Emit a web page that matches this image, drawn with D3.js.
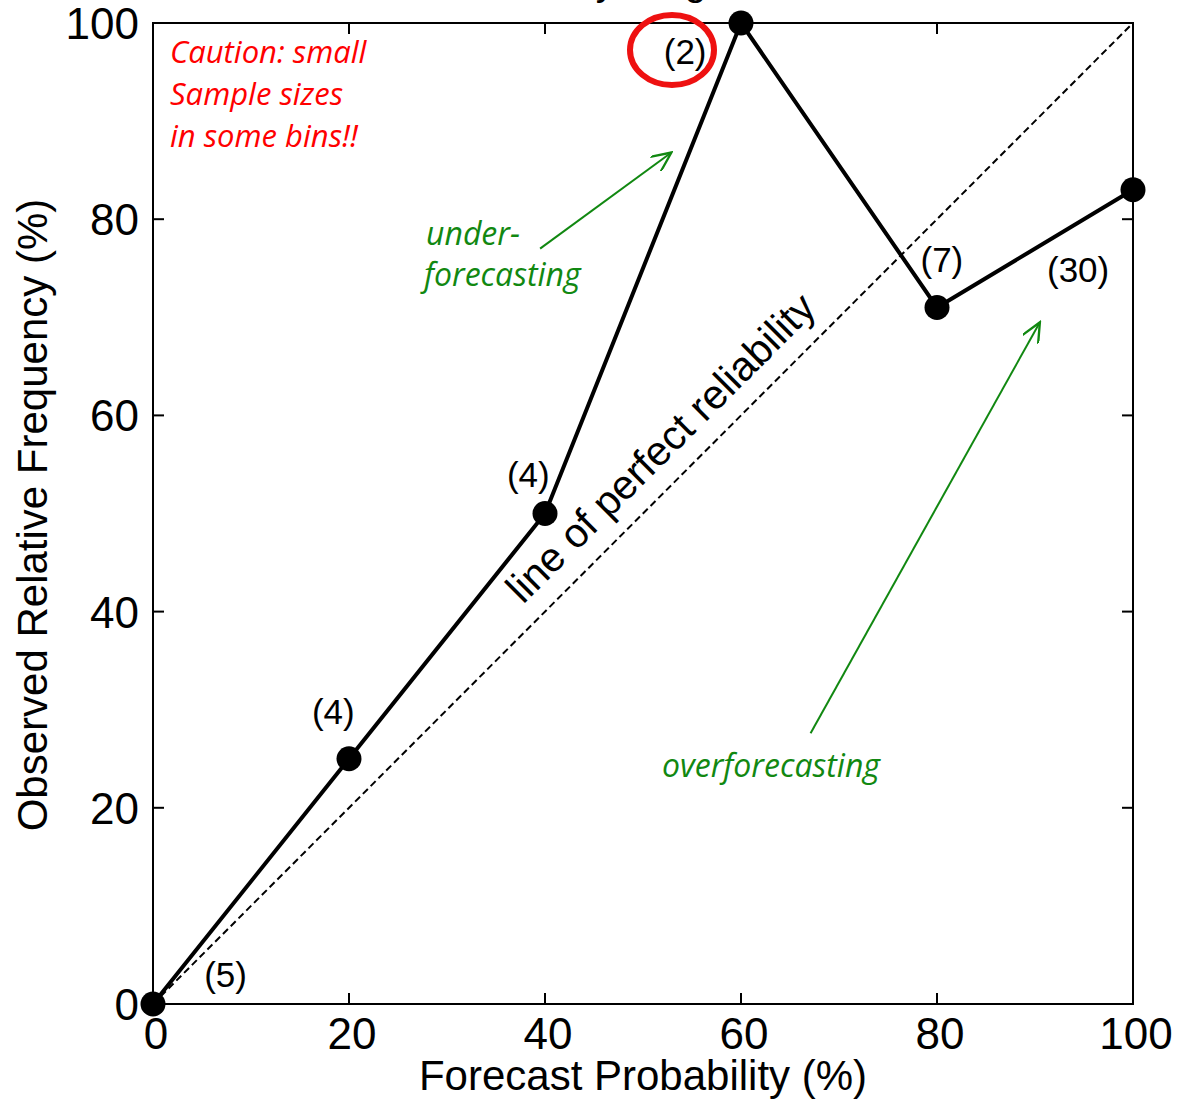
<!DOCTYPE html>
<html>
<head>
<meta charset="utf-8">
<title>reliability diagram</title>
<script src="https://cdn.jsdelivr.net/npm/d3@7"></script>
<style>
  body { margin: 0; background: #fff; }
  svg { display: block; font-family: "Liberation Sans", Arial, sans-serif; }
</style>
</head>
<body>
<div id="chart"></div>
<script>
var forecast = [0, 20, 40, 60, 80, 100],
    observed = [0, 25, 50, 100, 71, 83],
    counts = ["(5)", "(4)", "(4)", "(2)", "(7)", "(30)"],
    ticks = [0, 20, 40, 60, 80, 100];

// where each count label sits, in data units
var labelPos = [[7.4, 1.7], [18.4, 28.5], [38.3, 52.7], [54.3, 95.8], [80.5, 74.6], [94.4, 73.6]];

var width = 1177, height = 1099,
    margin = { top: 23, right: 44, bottom: 95, left: 153 };

var svg = d3.select("#chart").append("svg")
    .attr("width", width)
    .attr("height", height);

var x = d3.scaleLinear().domain([0, 100]).range([margin.left, width - margin.right]);
var y = d3.scaleLinear().domain([0, 100]).range([height - margin.bottom, margin.top]);

// title, mostly cut off at the top edge
svg.append("text")
    .attr("x", 611).attr("y", -5)
    .attr("text-anchor", "middle")
    .style("font-size", "39px")
    .text("Reliability Diagram");

// ticks on all four sides, pointing in
var tl = 11;
ticks.forEach(function(t) {
    svg.append("line").attr("x1", x(t)).attr("x2", x(t)).attr("y1", y(0)).attr("y2", y(0) - tl).attr("stroke", "#000").attr("stroke-width", 2);
    svg.append("line").attr("x1", x(t)).attr("x2", x(t)).attr("y1", y(100)).attr("y2", y(100) + tl).attr("stroke", "#000").attr("stroke-width", 2);
    svg.append("line").attr("y1", y(t)).attr("y2", y(t)).attr("x1", x(0)).attr("x2", x(0) + tl).attr("stroke", "#000").attr("stroke-width", 2);
    svg.append("line").attr("y1", y(t)).attr("y2", y(t)).attr("x1", x(100)).attr("x2", x(100) - tl).attr("stroke", "#000").attr("stroke-width", 2);

    svg.append("text")
        .attr("x", x(t) + 3).attr("y", y(0) + 45)
        .attr("text-anchor", "middle")
        .style("font-size", "44px")
        .text(t);
    svg.append("text")
        .attr("x", x(0) - 14).attr("y", y(t) + 16)
        .attr("text-anchor", "end")
        .style("font-size", "44px")
        .text(t);
});

svg.append("rect")
    .attr("x", x(0)).attr("y", y(100))
    .attr("width", x(100) - x(0)).attr("height", y(0) - y(100))
    .attr("fill", "none").attr("stroke", "#000").attr("stroke-width", 2);

// axis titles
svg.append("text")
    .attr("x", x(50)).attr("y", height - 9)
    .attr("text-anchor", "middle")
    .style("font-size", "42px")
    .text("Forecast Probability (%)");
svg.append("text")
    .attr("transform", "translate(47," + 515 + ") rotate(-90)")
    .attr("text-anchor", "middle")
    .style("font-size", "42px")
    .text("Observed Relative Frequency (%)");

// perfect reliability
svg.append("line")
    .attr("x1", x(0)).attr("y1", y(0)).attr("x2", x(100)).attr("y2", y(100))
    .attr("stroke", "#000").attr("stroke-width", 2)
    .attr("stroke-dasharray", "7,4");
svg.append("text")
    .attr("transform", "translate(" + x(52.8) + "," + y(55.7) + ") rotate(-45)")
    .attr("text-anchor", "middle")
    .style("font-size", "41px")
    .text("line of perfect reliability");

// data line and points
var pts = forecast.map(function(f, i) { return [f, observed[i]]; });
svg.append("path")
    .datum(pts)
    .attr("d", d3.line().x(function(d) { return x(d[0]); }).y(function(d) { return y(d[1]); }))
    .attr("fill", "none").attr("stroke", "#000").attr("stroke-width", 4);
svg.selectAll(".pt").data(pts).enter().append("circle")
    .attr("cx", function(d) { return x(d[0]); })
    .attr("cy", function(d) { return y(d[1]); })
    .attr("r", 12.5).attr("fill", "#000");

svg.selectAll(".cnt").data(counts).enter().append("text")
    .attr("x", function(d, i) { return x(labelPos[i][0]); })
    .attr("y", function(d, i) { return y(labelPos[i][1]); })
    .attr("text-anchor", "middle")
    .style("font-size", "35px")
    .text(function(d) { return d; });

// red circle round the (2)
svg.append("ellipse")
    .attr("cx", 672).attr("cy", 50)
    .attr("rx", 42).attr("ry", 35)
    .attr("fill", "none").attr("stroke", "#ee1111").attr("stroke-width", 6);

var note = ["Caution: small", "Sample sizes", "in some bins!!"];
svg.selectAll(".note").data(note).enter().append("text")
    .attr("x", 170)
    .attr("y", function(d, i) { return 63 + i * 42; })
    .attr("fill", "#ff0000")
    .style("font-family", "'Open Sans', sans-serif")
    .style("font-style", "italic")
    .style("font-size", "31px")
    .text(function(d) { return d; });

// green arrows
var green = "#118811";
svg.append("defs").append("marker")
    .attr("id", "head")
    .attr("viewBox", "0 0 12 10")
    .attr("refX", 11).attr("refY", 5)
    .attr("markerWidth", 22).attr("markerHeight", 18)
    .attr("markerUnits", "userSpaceOnUse")
    .attr("orient", "auto")
    .append("path")
    .attr("d", "M0,0 L11,5 L0,10")
    .attr("fill", "none").attr("stroke", green).attr("stroke-width", 1.3);

var arrows = [[[39.5, 77], [52.9, 86.8]], [[67.1, 27.6], [90.5, 69.5]]];
arrows.forEach(function(a) {
    svg.append("line")
        .attr("x1", x(a[0][0])).attr("y1", y(a[0][1]))
        .attr("x2", x(a[1][0])).attr("y2", y(a[1][1]))
        .attr("stroke", green).attr("stroke-width", 2)
        .attr("marker-end", "url(#head)");
});

var greenText = [["under-", 426, 245], ["forecasting", 424, 286], ["overforecasting", 662, 777]];
svg.selectAll(".gt").data(greenText).enter().append("text")
    .attr("x", function(d) { return d[1]; })
    .attr("y", function(d) { return d[2]; })
    .attr("fill", green)
    .style("font-family", "'Open Sans', sans-serif")
    .style("font-style", "italic")
    .style("font-size", "32px")
    .text(function(d) { return d[0]; });
</script>
</body>
</html>
